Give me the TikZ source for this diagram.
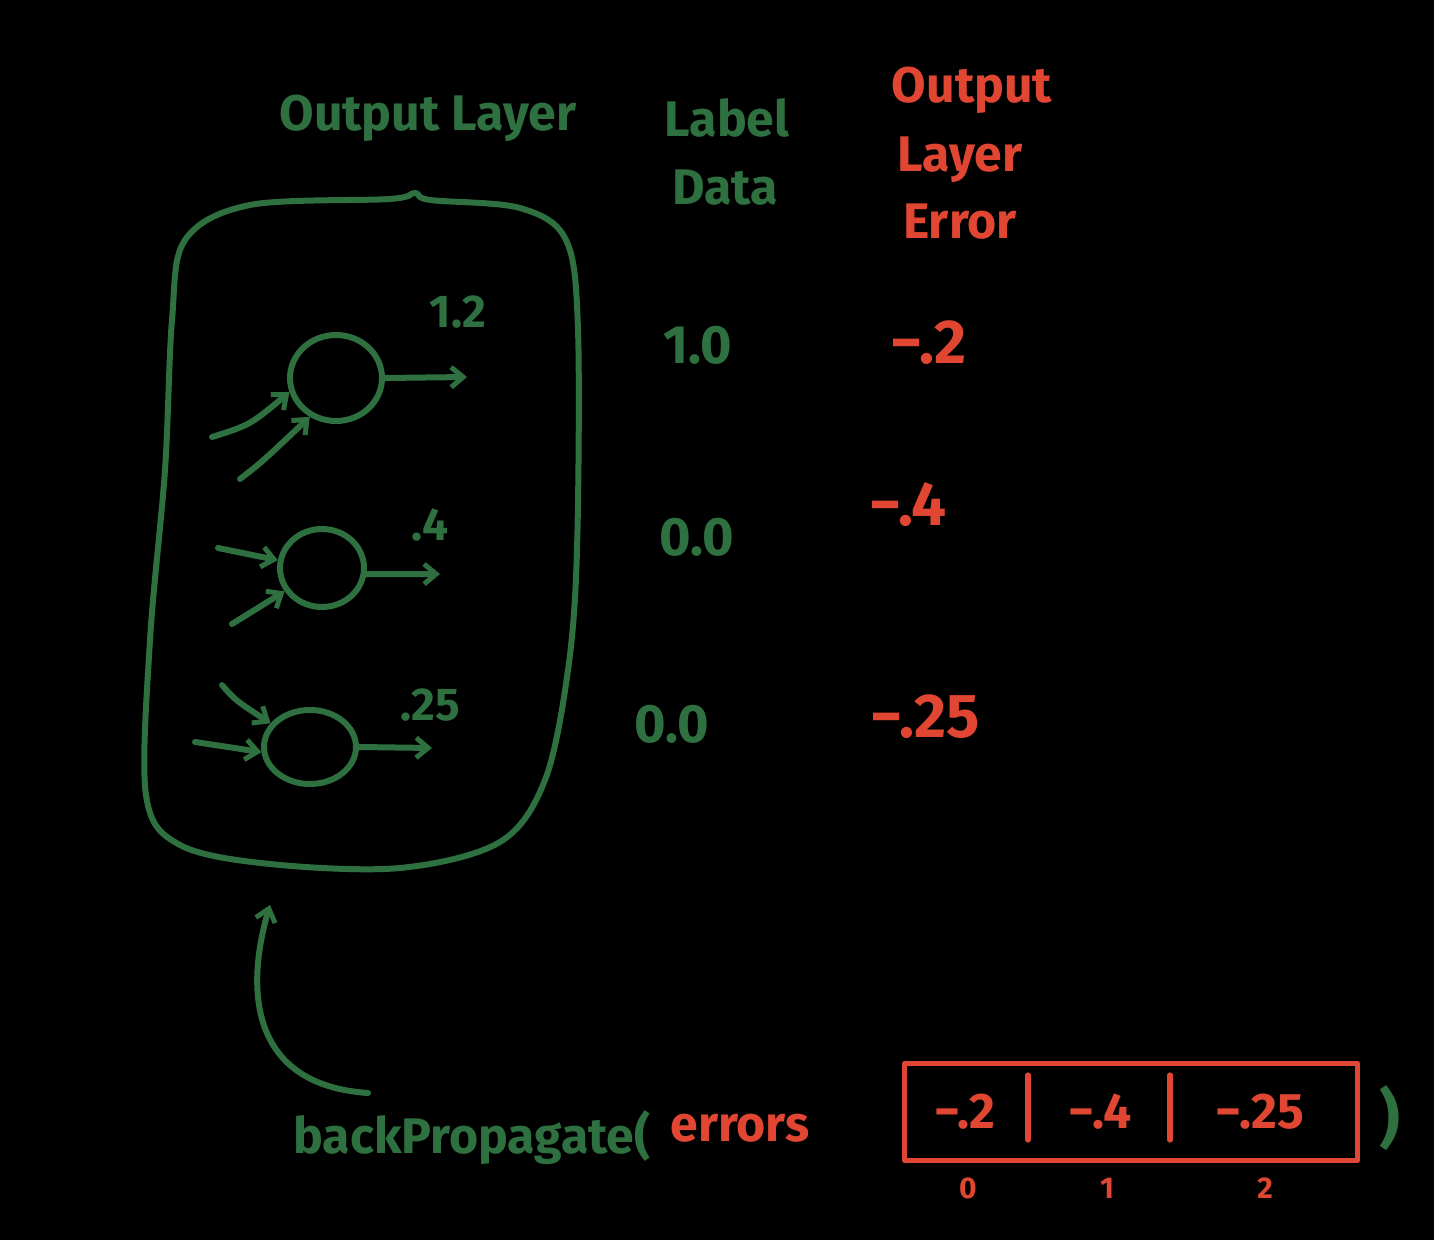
\documentclass[tikz,border=0pt]{standalone}
\usepackage{fontspec}
\setmainfont{Fira Sans}
\usetikzlibrary{arrows.meta,shapes.geometric}
\definecolor{hgreen}{RGB}{46,112,64}
\definecolor{hred}{RGB}{224,70,50}
\begin{document}
\begin{tikzpicture}[x=0.5pt,y=-0.5pt,
  gtxt/.style={text=hgreen,inner sep=0pt},
  rtxt/.style={text=hred,inner sep=0pt},
  big/.style={font=\fontsize{25}{27}\selectfont\bfseries},
  num/.style={font=\fontsize{27}{29}\selectfont\bfseries},
  err/.style={font=\fontsize{31}{33}\selectfont\bfseries},
  small/.style={font=\fontsize{23}{25}\selectfont\bfseries},
  tiny/.style={font=\fontsize{15}{17}\selectfont\bfseries},
  stroke/.style={draw=hgreen,line width=3pt,line cap=round,line join=round},
  rstroke/.style={draw=hred,line width=2.6pt,line cap=round,line join=round},
  neuron/.style={stroke,ellipse,inner sep=0pt},
  hand/.style={-{Straight Barb[length=6pt,width=10pt,line width=2.5pt]}}
]
\fill[black] (0,0) rectangle (1434,1240);
\path[use as bounding box] (0,0) rectangle (1434,1240);

% headings
\node[gtxt,big] (ol) at (428,118) {Output Layer};
\node[gtxt,big] (lab) at (727,118) {Label};
\node[gtxt,big] (dat) at (725,188) {Data};
\node[rtxt,big] (oe1) at (972,90) {Output};
\node[rtxt,big] (oe2) at (960,160) {Layer};
\node[rtxt,big] (oe3) at (960,222) {Error};

% layer box
\draw[stroke,line width=3pt] plot[smooth cycle,tension=0.55] coordinates {
 (250,205) (390,199) (415,193) (430,200) (520,208) (566,240) (578,330)
 (577,550) (568,670) (545,780) (500,842) (400,868) (270,864) (180,845)
 (146,795) (150,640) (165,470) (172,320) (185,240)};

% neurons
\node[neuron,minimum width=46pt,minimum height=43pt] (n1) at (336,378) {};
\node[neuron,minimum width=42pt,minimum height=39pt] (n2) at (322,568) {};
\node[neuron,minimum width=46pt,minimum height=37pt] (n3) at (310,747) {};

\coordinate (o1) at (467,377);
\coordinate (o2) at (440,574);
\coordinate (o3) at (432,748);
\draw[stroke,hand] (n1.east) -- (o1);
\draw[stroke,hand] (n2.-8) -- (o2);
\draw[stroke,hand] (n3.east) -- (o3);

\coordinate (i1a) at (212,437);
\coordinate (i1b) at (240,479);
\coordinate (i2a) at (218,548);
\coordinate (i2b) at (232,624);
\coordinate (i3a) at (222,685);
\coordinate (i3b) at (195,742);
\draw[stroke,hand] (i1a) .. controls (250,425) .. (n1.197);
\draw[stroke,hand] (i1b) .. controls (262,462) .. (n1.236);
\draw[stroke,hand] (i2a) -- (n2.170);
\draw[stroke,hand] (i2b) -- (n2.212);
\draw[stroke,hand] (i3a) .. controls (235,700) .. (n3.149);
\draw[stroke,hand] (i3b) -- (n3.186);

% neuron values
\node[gtxt,small] (v1) at (458,312) {1.2};
\node[gtxt,small] (v2) at (430,525) {.4};
\node[gtxt,small] (v3) at (430,705) {.25};

% label data
\node[gtxt,num] (d1) at (698,345) {1.0};
\node[gtxt,num] (d2) at (697,537) {0.0};
\node[gtxt,num] (d3) at (672,724) {0.0};

% errors
\node[rtxt,err] (e1) at (928,343) {−.2};
\node[rtxt,err] (e2) at (908,505) {−.4};
\node[rtxt,err] (e3) at (925,717) {−.25};

% call
\node[gtxt,big] (bp) at (472,1138) {backPropagate(};
\node[rtxt,big] (er) at (740,1128) {errors};
\coordinate (bs) at (368,1093);
\coordinate (bt) at (270,905);
\draw[stroke,hand] (bs) .. controls (250,1085) and (245,990) .. (bt);

% array
\node[rstroke,rectangle,minimum width=226.5pt,minimum height=48.5pt] (arr) at (1131,1112) {};
\coordinate (s1t) at (1028,1075);
\coordinate (s1b) at (1028,1140);
\coordinate (s2t) at (1170,1075);
\coordinate (s2b) at (1170,1140);
\draw[rstroke] (s1t) -- (s1b);
\draw[rstroke] (s2t) -- (s2b);
\node[rtxt,big] (c0) at (965,1112) {−.2};
\node[rtxt,big] (c1) at (1100,1112) {−.4};
\node[rtxt,big] (c2) at (1260,1112) {−.25};
\node[rtxt,tiny] (x0) at (968,1188) {0};
\node[rtxt,tiny] (x1) at (1107,1188) {1};
\node[rtxt,tiny] (x2) at (1265,1188) {2};
\node[gtxt,font=\fontsize{32}{34}\selectfont\bfseries] (paren) at (1390,1118) {)};
\end{tikzpicture}
\end{document}
